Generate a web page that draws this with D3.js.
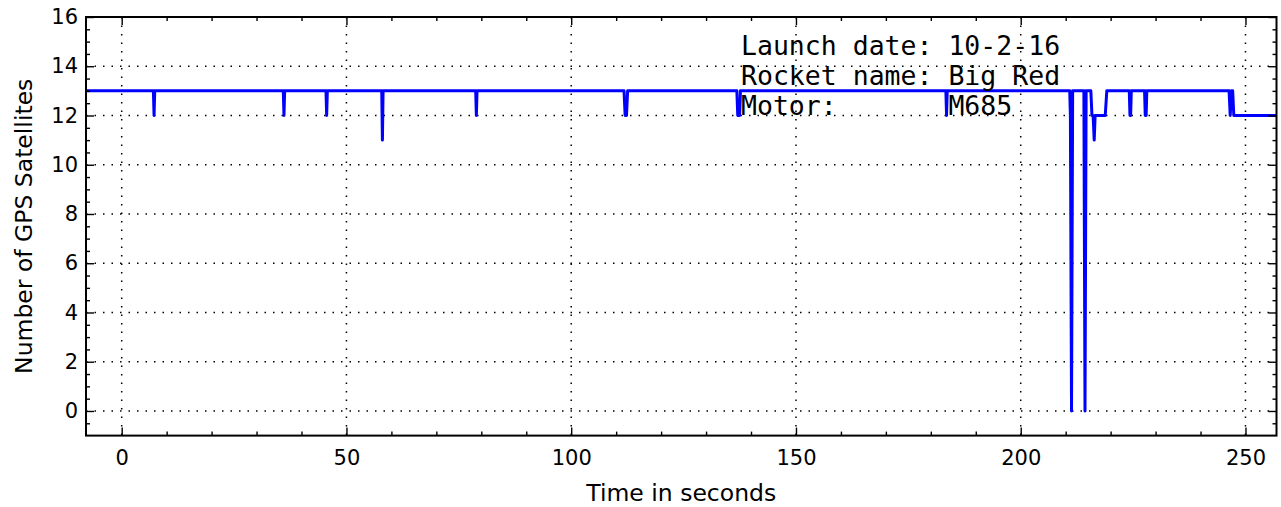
<!DOCTYPE html>
<html>
<head>
<meta charset="utf-8">
<script src="https://cdn.jsdelivr.net/npm/d3@7"></script>
<style>
  html, body { margin: 0; padding: 0; background: #fff; }
  svg { display: block; }
  text { font-family: "DejaVu Sans", sans-serif; fill: #000; }
</style>
</head>
<body>
<svg id="chart" width="1281" height="507"></svg>
<script>
// ---- data ----
const timeSec = [
  -7.94, 7.05, 7.2, 7.35,
  35.95, 36.1, 36.25,
  45.45, 45.6, 45.75,
  57.85, 58.0, 58.15,
  78.75, 78.9, 79.05,
  111.75, 112.0, 112.3, 112.55,
  136.85, 137.05, 137.45, 137.65,
  183.35, 183.5, 183.65,
  210.9, 211.05, 211.3, 211.55,
  214.05, 214.3, 214.55,
  215.6, 215.85, 216.1, 216.35, 216.55, 218.8, 219.15,
  224.15, 224.3, 224.45, 224.6,
  227.55, 227.7, 227.9, 228.05,
  246.35, 246.6, 246.9, 247.15, 247.4, 256.9
];
const satellites = [
  13, 13, 12, 13,
  13, 12, 13,
  13, 12, 13,
  13, 11, 13,
  13, 12, 13,
  13, 12, 12, 13,
  13, 12, 12, 13,
  13, 12, 13,
  13, 12, 0, 13,
  13, 0, 13,
  13, 12, 12, 11, 12, 12, 13,
  13, 12, 12, 13,
  13, 12, 12, 13,
  13, 12, 13, 13, 12, 12
];
const xTicks = [0, 50, 100, 150, 200, 250];
const yTicks = [0, 2, 4, 6, 8, 10, 12, 14, 16];
const xMinorTicks = [10, 20, 30, 40, 60, 70, 80, 90, 110, 120, 130, 140, 160, 170, 180, 190, 210, 220, 230, 240];
const yMinorTicks = [-0.5, 0.5, 1, 1.5, 2.5, 3, 3.5, 4.5, 5, 5.5, 6.5, 7, 7.5, 8.5, 9, 9.5, 10.5, 11, 11.5, 12.5, 13, 13.5, 14.5, 15, 15.5];
const annotationLines = ["Launch date: 10-2-16", "Rocket name: Big Red", "Motor:       M685"];
const xLabel = "Time in seconds";
const yLabel = "Number of GPS Satellites";

// ---- layout ----
const L = 86, R = 1276.5, T = 17, B = 435.6;
const svg = d3.select("#chart");

const x = d3.scaleLinear().domain([-7.94, 256.9]).range([L, R]);
const y = d3.scaleLinear().domain([-1, 16]).range([B, T]);

// grid
const grid = svg.append("g").attr("stroke", "#000").attr("stroke-width", 1.5).attr("stroke-dasharray", "1.5,7");
grid.selectAll("line.gx").data(xTicks).join("line")
  .attr("x1", d => x(d)).attr("x2", d => x(d)).attr("y1", T).attr("y2", B);
grid.selectAll("line.gy").data(yTicks).join("line")
  .attr("x1", L).attr("x2", R).attr("y1", d => y(d)).attr("y2", d => y(d));

// clip
svg.append("clipPath").attr("id", "clip").append("rect")
  .attr("x", L).attr("y", T).attr("width", R - L).attr("height", B - T);

// line
const pts = timeSec.map((t, i) => [t, satellites[i]]);
svg.append("path")
  .datum(pts)
  .attr("clip-path", "url(#clip)")
  .attr("fill", "none")
  .attr("stroke", "#0000ff")
  .attr("stroke-width", 3)
  .attr("stroke-linejoin", "round")
  .attr("d", d3.line().x(d => x(d[0])).y(d => y(d[1])));

// axes helper
function styleAxis(g) {
  g.select(".domain").remove();
  g.selectAll(".tick line").attr("stroke", "#000").attr("stroke-width", 1.4);
  g.selectAll(".tick text").attr("font-family", "DejaVu Sans").attr("font-size", 21).attr("fill", "#000");
}

// bottom major
svg.append("g").attr("transform", `translate(0,${B})`)
  .call(d3.axisBottom(x).tickValues(xTicks).tickSize(-8).tickPadding(14).tickFormat(d3.format("d")))
  .call(styleAxis);
// bottom minor
svg.append("g").attr("transform", `translate(0,${B})`)
  .call(d3.axisBottom(x).tickValues(xMinorTicks).tickSize(-4).tickFormat(""))
  .call(styleAxis);
// top
svg.append("g").attr("transform", `translate(0,${T})`)
  .call(d3.axisTop(x).tickValues(xTicks).tickSize(-8).tickFormat(""))
  .call(styleAxis);
svg.append("g").attr("transform", `translate(0,${T})`)
  .call(d3.axisTop(x).tickValues(xMinorTicks).tickSize(-4).tickFormat(""))
  .call(styleAxis);
// left
svg.append("g").attr("transform", `translate(${L},0)`)
  .call(d3.axisLeft(y).tickValues(yTicks).tickSize(-8).tickPadding(8).tickFormat(d3.format("d")))
  .call(styleAxis);
svg.append("g").attr("transform", `translate(${L},0)`)
  .call(d3.axisLeft(y).tickValues(yMinorTicks).tickSize(-4).tickFormat(""))
  .call(styleAxis);
// right
svg.append("g").attr("transform", `translate(${R},0)`)
  .call(d3.axisRight(y).tickValues(yTicks).tickSize(-8).tickFormat(""))
  .call(styleAxis);
svg.append("g").attr("transform", `translate(${R},0)`)
  .call(d3.axisRight(y).tickValues(yMinorTicks).tickSize(-4).tickFormat(""))
  .call(styleAxis);

// frame
svg.append("rect").attr("x", L).attr("y", T).attr("width", R - L).attr("height", B - T)
  .attr("fill", "none").attr("stroke", "#000").attr("stroke-width", 2);

// axis labels
svg.append("text").attr("x", (L + R) / 2).attr("y", 501)
  .attr("text-anchor", "middle").attr("font-size", 23.5).text(xLabel);
svg.append("text").attr("transform", `translate(32,${(T + B) / 2}) rotate(-90)`)
  .attr("text-anchor", "middle").attr("font-size", 23.5).text(yLabel);

// annotation
const ann = svg.append("text").attr("font-family", "DejaVu Sans Mono").attr("font-size", 26.5)
  .attr("style", "white-space: pre; font-family: 'DejaVu Sans Mono', monospace;");
annotationLines.forEach((s, i) => {
  ann.append("tspan").attr("x", 741).attr("y", 55 + i * 30).text(s);
});
</script>
</body>
</html>
